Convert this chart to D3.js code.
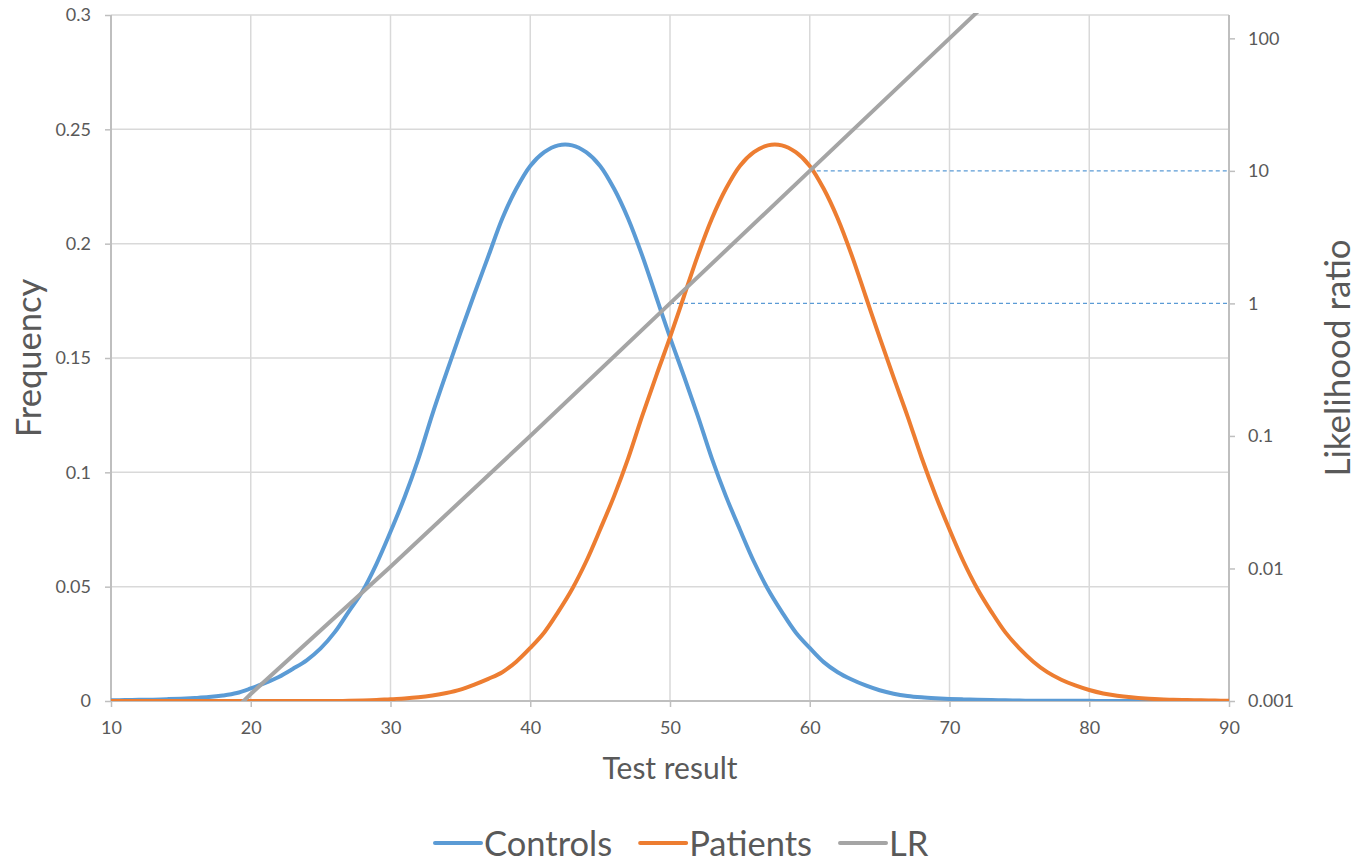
<!DOCTYPE html>
<html>
<head>
<meta charset="utf-8">
<script src="https://cdn.jsdelivr.net/npm/d3@7"></script>
<style>
	body { margin: 0; background: #fff; }
	text { font-family: Lato, "Open Sans", sans-serif; fill: #595959; }
</style>
</head>
<body>
<div id="chart"></div>
<script>
var testResult = [10,11,12,13,14,15,16,17,18,19,20,21,22,23,24,25,26,27,28,29,30,31,32,33,34,35,36,37,38,39,40,
	41,42,43,44,45,46,47,48,49,50,51,52,53,54,55,56,57,58,59,60,61,62,63,64,65,66,67,68,69,70,
	71,72,73,74,75,76,77,78,79,80,81,82,83,84,85,86,87,88,89,90];

var controls = [0.0003,0.0004,0.0005,0.0006,0.0008,0.0010,0.0013,0.0017,0.0024,0.0035,0.0055,
	0.0078,0.0105,0.0140,0.0178,0.0230,0.0300,0.0390,0.0480,0.0600,0.0740,
	0.0890,0.1060,0.1255,0.1435,0.1610,0.1780,0.1945,0.2110,0.2240,0.2340,
	0.2400,0.2430,0.2430,0.2400,0.2340,0.2240,0.2110,0.1950,0.1770,0.1590,
	0.1420,0.1245,0.1060,0.0896,0.0750,0.0610,0.0490,0.0390,0.0300,0.0232,
	0.0170,0.0126,0.0094,0.0068,0.0047,0.0032,0.0022,0.0016,0.0012,0.0009,
	0.0007,0.0005,0.0004,0.0003,0.0002,0.0001,0.0001,0.0001,0.0001,0.0001,
	0,0,0,0,0,0,0,0,0,0];

var patients = [0,0,0,0,0,0,0,0,0,0,0,
	0,0,0,0,0,0,0.0001,0.0002,0.0004,0.0008,
	0.0011,0.0016,0.0024,0.0035,0.0050,0.0072,0.0097,0.0126,0.0172,0.0232,
	0.0300,0.0390,0.0490,0.0610,0.0750,0.0896,0.1060,0.1245,0.1420,0.1590,
	0.1770,0.1950,0.2110,0.2240,0.2340,0.2400,0.2430,0.2430,0.2400,0.2340,
	0.2240,0.2110,0.1950,0.1770,0.1590,0.1415,0.1245,0.1065,0.0900,0.0750,
	0.0610,0.0490,0.0390,0.0300,0.0230,0.0172,0.0126,0.0093,0.0068,0.0048,
	0.0033,0.0023,0.0016,0.0011,0.0008,0.0005,0.0004,0.0003,0.0002,0.0001];

// likelihood ratio, right (log) axis
var lrX = [10,20,30,40,50,60,70,80,90];
var lrValues = [0.0001,0.00113,0.0103,0.1,1,10,100,1000,10000];

// dashed reference lines on the LR axis
var ref10X = [60,90];
var ref10Y = [10,10];
var ref1X = [50,90];
var ref1Y = [1,1];

var xTicks = [10,20,30,40,50,60,70,80,90];
var yTicks = [0,0.05,0.1,0.15,0.2,0.25,0.3];
var y2Ticks = [0.001,0.01,0.1,1,10,100];
var y2Labels = ["0.001","0.01","0.1","1","10","100"];
var seriesNames = ["Controls","Patients","LR"];
var seriesColors = ["#5B9BD5","#ED7D31","#A5A5A5"];

var W = 1357, H = 863;
var pLeft = 111, pRight = 1229, pTop = 15, pBottom = 701;

var svg = d3.select("#chart").append("svg")
	.attr("width", W).attr("height", H);

var x = d3.scaleLinear().domain([10,90]).range([pLeft,pRight]);
var y = d3.scaleLinear().domain([0,0.3]).range([pBottom,pTop]);
var y2 = d3.scaleLog().domain([0.001,150]).range([pBottom,pTop]);

svg.append("clipPath").attr("id","plotclip")
	.append("rect").attr("x",pLeft).attr("y",pTop-2).attr("width",pRight-pLeft).attr("height",pBottom-pTop+2);

// grid
svg.append("g").selectAll("line").data(yTicks.slice(1)).enter().append("line")
	.attr("x1",pLeft).attr("x2",pRight)
	.attr("y1",function(d){return y(d);}).attr("y2",function(d){return y(d);})
	.attr("stroke","#d9d9d9").attr("stroke-width",1.5);
svg.append("g").selectAll("line").data(xTicks.slice(1)).enter().append("line")
	.attr("x1",function(d){return x(d);}).attr("x2",function(d){return x(d);})
	.attr("y1",pTop).attr("y2",pBottom)
	.attr("stroke","#d9d9d9").attr("stroke-width",1.5);

// axes
var axL = svg.append("g").attr("transform","translate("+pLeft+",0)")
	.call(d3.axisLeft(y).tickValues(yTicks).tickSize(6).tickPadding(14).tickFormat(function(d){return d;}));
var axB = svg.append("g").attr("transform","translate(0,"+pBottom+")")
	.call(d3.axisBottom(x).tickValues(xTicks).tickSize(6).tickPadding(14));
var axR = svg.append("g").attr("transform","translate("+pRight+",0)")
	.call(d3.axisRight(y2).tickValues(y2Ticks).tickSize(6).tickPadding(13).tickFormat(function(d,i){return y2Labels[i];}));
[axL,axB,axR].forEach(function(a){
	a.select(".domain").attr("stroke","#bfbfbf").attr("stroke-width",2);
	a.selectAll(".tick line").attr("stroke","#bfbfbf").attr("stroke-width",1.5);
	a.selectAll(".tick text").style("font-size","18px").attr("fill","#595959");
});
axL.select(".domain").attr("d","M0,"+pBottom+"V"+pTop);
axR.select(".domain").attr("d","M0,"+pBottom+"V"+pTop);
axB.select(".domain").attr("d","M"+pLeft+",0H"+pRight);

var plot = svg.append("g").attr("clip-path","url(#plotclip)");

var line = d3.line()
	.x(function(d){return x(d[0]);})
	.y(function(d){return y(d[1]);})
	.curve(d3.curveCatmullRom.alpha(0.5));
var line2 = d3.line()
	.x(function(d){return x(d[0]);})
	.y(function(d){return y2(d[1]);});

function pairs(xs,ys){ return xs.map(function(v,i){return [v,ys[i]];}); }

plot.append("path").datum(pairs(ref10X,ref10Y)).attr("d",line2)
	.attr("fill","none").attr("stroke","#5B9BD5").attr("stroke-width",1.2).attr("stroke-dasharray","4,3");
plot.append("path").datum(pairs(ref1X,ref1Y)).attr("d",line2)
	.attr("fill","none").attr("stroke","#5B9BD5").attr("stroke-width",1.2).attr("stroke-dasharray","4,3");

plot.append("path").datum(pairs(testResult,controls)).attr("d",line)
	.attr("fill","none").attr("stroke",seriesColors[0]).attr("stroke-width",4).attr("stroke-linejoin","round");
plot.append("path").datum(pairs(testResult,patients)).attr("d",line)
	.attr("fill","none").attr("stroke",seriesColors[1]).attr("stroke-width",4).attr("stroke-linejoin","round");
plot.append("path").datum(pairs(lrX,lrValues)).attr("d",line2)
	.attr("fill","none").attr("stroke",seriesColors[2]).attr("stroke-width",4);

// titles
svg.append("text").attr("transform","translate(41,358) rotate(-90)")
	.attr("text-anchor","middle").style("font-size","34.5px").text("Frequency");
svg.append("text").attr("transform","translate(1350,358) rotate(-90)")
	.attr("text-anchor","middle").style("font-size","35px").text("Likelihood ratio");
svg.append("text").attr("x",670).attr("y",779)
	.attr("text-anchor","middle").style("font-size","30px").text("Test result");

// legend
var leg = svg.append("g");
var lx = 435;
seriesNames.forEach(function(name,i){
	leg.append("line").attr("x1",lx).attr("x2",lx+46).attr("y1",843).attr("y2",843)
		.attr("stroke",seriesColors[i]).attr("stroke-width",4).attr("stroke-linecap","round");
	var t = leg.append("text").attr("x",lx+49).attr("y",856).style("font-size","34.5px").text(name);
	lx = lx + 49 + t.node().getComputedTextLength() + 28;
});
</script>
</body>
</html>
